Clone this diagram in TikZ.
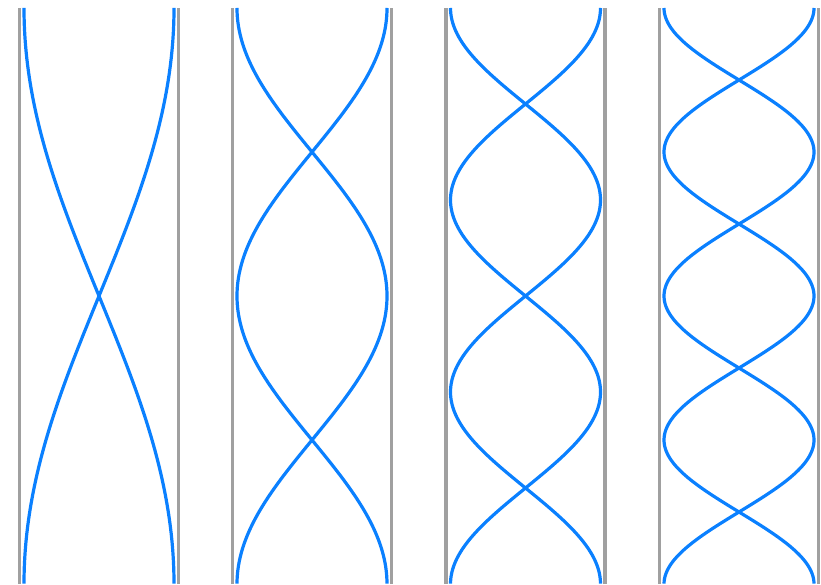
\documentclass[tikz,border=0pt]{standalone}
\usepackage{tikz}
\definecolor{wave}{RGB}{10,128,255}
\definecolor{rail}{RGB}{160,160,160}
\tikzset{
  railline/.style={draw=rail, line width=3.2pt},
  waveline/.style={draw=wave, line width=3.2pt, smooth},
}
\begin{document}
\begin{tikzpicture}[x=1pt,y=1pt]
\useasboundingbox (0,0) rectangle (821,584);
\foreach \c/\n in {99/1, 312/2, 525.5/3, 739/4}{
  \draw[railline] (\c-79.5,0) -- (\c-79.5,576);
  \draw[railline] (\c+79.5,0) -- (\c+79.5,576);
  \draw[waveline] plot[domain=0:1, samples=240, variable=\t] ({\c+75*cos(\n*180*\t)}, {576*(1-\t)});
  \draw[waveline] plot[domain=0:1, samples=240, variable=\t] ({\c-75*cos(\n*180*\t)}, {576*(1-\t)});
}
\end{tikzpicture}
\end{document}
